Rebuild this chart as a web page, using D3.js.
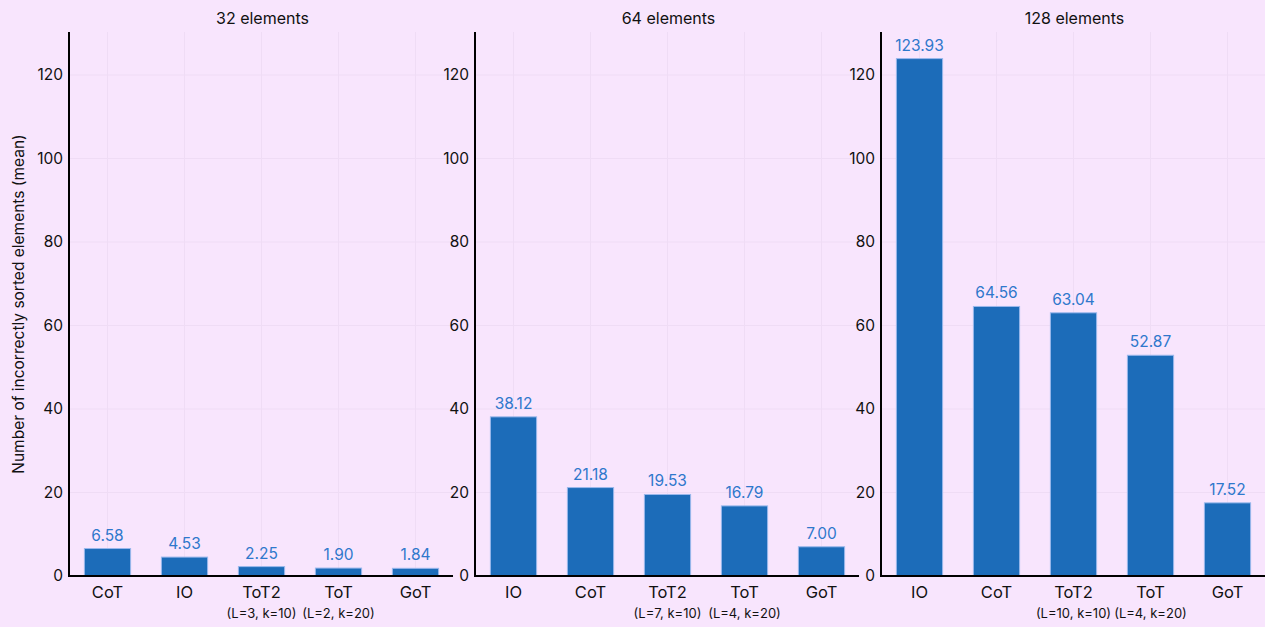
<!DOCTYPE html>
<html><head><meta charset="utf-8">
<script src="https://cdn.jsdelivr.net/npm/d3@7"></script>
<style>
html,body{margin:0;padding:0;background:#f8e5fd;}
svg{display:block;font-family:Inter,"Noto Sans",sans-serif;}
</style></head>
<body><svg id="c" width="1265" height="627"></svg>
<script>
const panelTitles = ["32 elements", "64 elements", "128 elements"];
const cats32 = ["CoT", "IO", "ToT2", "ToT", "GoT"];
const vals32 = [6.58, 4.53, 2.25, 1.90, 1.84];
const sub32 = ["", "", "(L=3, k=10)", "(L=2, k=20)", ""];
const cats64 = ["IO", "CoT", "ToT2", "ToT", "GoT"];
const vals64 = [38.12, 21.18, 19.53, 16.79, 7.00];
const sub64 = ["", "", "(L=7, k=10)", "(L=4, k=20)", ""];
const cats128 = ["IO", "CoT", "ToT2", "ToT", "GoT"];
const vals128 = [123.93, 64.56, 63.04, 52.87, 17.52];
const sub128 = ["", "", "(L=10, k=10)", "(L=4, k=20)", ""];
const yTicks = [0, 20, 40, 60, 80, 100, 120];
const yLabel = "Number of incorrectly sorted elements (mean)";

const panels = [
  {title: panelTitles[0], cats: cats32, vals: vals32, subs: sub32},
  {title: panelTitles[1], cats: cats64, vals: vals64, subs: sub64},
  {title: panelTitles[2], cats: cats128, vals: vals128, subs: sub128}
];

const svg = d3.select("#c");
const yTop = 32, yBot = 576, pw = 385;
const lefts = [69, 475, 881];
const y = d3.scaleLinear().domain([0, 130.3]).range([yBot, yTop]);

panels.forEach((p, i) => {
  const x0 = lefts[i];
  const x = d3.scaleBand().domain(p.cats).range([x0, x0 + pw]).paddingInner(0.4).paddingOuter(0.2);
  const g = svg.append("g");
  g.selectAll("line.hg").data(yTicks).join("line").attr("class", "hg")
    .attr("x1", x0).attr("x2", x0 + pw).attr("y1", d => y(d)).attr("y2", d => y(d))
    .attr("stroke", "#efdcf5").attr("stroke-width", 1);
  g.selectAll("line.vg").data(p.cats).join("line").attr("class", "vg")
    .attr("x1", d => x(d) + x.bandwidth()/2).attr("x2", d => x(d) + x.bandwidth()/2)
    .attr("y1", yTop).attr("y2", yBot)
    .attr("stroke", "#efdcf5").attr("stroke-width", 1);
  g.selectAll("rect.bar").data(p.cats).join("rect").attr("class", "bar")
    .attr("x", d => x(d)).attr("width", x.bandwidth())
    .attr("y", (d, j) => y(p.vals[j])).attr("height", (d, j) => yBot - y(p.vals[j]))
    .attr("fill", "#1c6cb9").attr("stroke", "#9ab8ec").attr("stroke-width", 1);
  g.selectAll("text.v").data(p.cats).join("text").attr("class", "v")
    .attr("x", d => x(d) + x.bandwidth()/2).attr("y", (d, j) => y(p.vals[j]) - 8)
    .attr("text-anchor", "middle").attr("fill", "#2f78cc").attr("font-size", 15.5)
    .text((d, j) => p.vals[j].toFixed(2));
  const ya = d3.axisLeft(y).tickValues(yTicks).tickSize(0).tickPadding(6);
  const ag = g.append("g").attr("transform", `translate(${x0},0)`).call(ya);
  ag.select(".domain").remove();
  ag.selectAll("text").attr("font-size", 15.5).attr("fill", "#111").attr("font-family", "Inter,'Noto Sans',sans-serif");
  const xa = d3.axisBottom(x).tickSize(0).tickPadding(10);
  const xg = g.append("g").attr("transform", `translate(0,${yBot})`).call(xa);
  xg.select(".domain").remove();
  xg.selectAll("text").attr("font-size", 16.5).attr("fill", "#111").attr("font-family", "Inter,'Noto Sans',sans-serif");
  g.selectAll("text.s").data(p.cats).join("text").attr("class", "s")
    .attr("x", d => x(d) + x.bandwidth()/2).attr("y", 618)
    .attr("text-anchor", "middle").attr("fill", "#111").attr("font-size", 13)
    .text((d, j) => p.subs[j]);
  g.append("line").attr("x1", x0).attr("x2", x0).attr("y1", yTop).attr("y2", yBot + 1)
    .attr("stroke", "#000").attr("stroke-width", 2);
  g.append("line").attr("x1", x0 - 1).attr("x2", x0 + pw - 1).attr("y1", yBot).attr("y2", yBot)
    .attr("stroke", "#000").attr("stroke-width", 2);
  g.append("text").attr("x", x0 + pw/2 + 1).attr("y", 24).attr("text-anchor", "middle")
    .attr("font-size", 16).attr("font-weight", 400).attr("fill", "#111").text(p.title);
});

svg.append("text").attr("transform", `translate(24,${(yTop + yBot)/2}) rotate(-90)`)
  .attr("text-anchor", "middle").attr("font-size", 15.5).attr("fill", "#111").text(yLabel);
</script>
</body></html>
